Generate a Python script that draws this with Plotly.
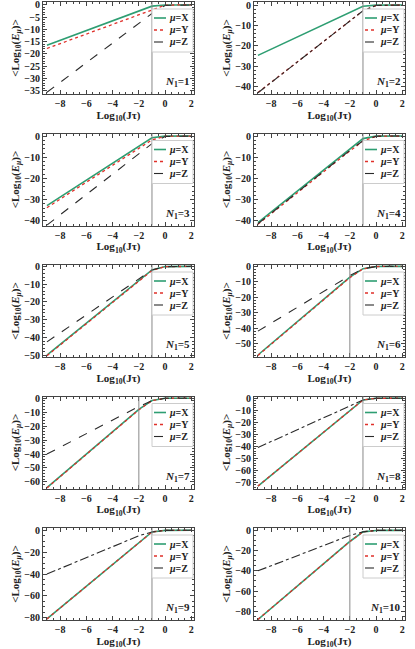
import plotly.graph_objects as go
from plotly.subplots import make_subplots

# Eje x: Log10(J tau)
x_vals = [-9, -8, -7, -6, -5, -4, -3, -2, -1, 0, 1, 2]

n1_vals = [1, 2, 3, 4, 5, 6, 7, 8, 9, 10]

# <Log10(E_mu)> para mu = X, un panel por N1
mu_x = [
    [-16.5, -14.5, -12.5, -10.5, -8.5, -6.5, -4.5, -2.5, -0.5, -0.05, 0, 0],
    [-24.6, -21.6, -18.6, -15.6, -12.6, -9.6, -6.6, -3.6, -0.6, -0.05, 0, 0],
    [-32.8, -28.8, -24.8, -20.8, -16.8, -12.8, -8.8, -4.8, -0.8, -0.05, 0, 0],
    [-40.8, -35.8, -30.9, -26.0, -21.0, -16.0, -11.1, -6.1, -1.2, -0.05, 0, 0],
    [-50.0, -44.0, -38.0, -32.0, -26.0, -20.0, -14.0, -8.0, -2.0, -0.1, 0, 0],
    [-57.5, -50.3, -43.1, -35.9, -28.6, -21.4, -14.2, -7.0, -1.5, -0.1, 0, 0],
    [-64.0, -56.0, -48.0, -40.0, -32.0, -24.0, -16.0, -8.0, -1.7, -0.1, 0, 0],
    [-73.0, -64.0, -55.0, -46.0, -37.0, -28.0, -19.0, -10.0, -1.5, -0.1, 0, 0],
    [-81.0, -71.0, -61.0, -51.0, -41.0, -31.0, -21.0, -11.0, -1.5, -0.1, 0, 0],
    [-88.0, -77.0, -66.0, -55.0, -44.0, -33.0, -22.0, -11.0, -1.5, -0.1, 0, 0],
]

# mu = Y
mu_y = [
    [-17.8, -15.8, -13.8, -11.8, -9.8, -7.8, -5.8, -3.8, -1.8, -0.1, 0, 0],
    [-42.8, -37.8, -32.8, -27.8, -22.8, -17.8, -12.8, -7.8, -2.8, -0.2, 0, 0],
    [-33.8, -29.8, -25.8, -21.8, -17.8, -13.8, -9.8, -5.8, -1.8, -0.1, 0, 0],
    [-41.6, -36.6, -31.7, -26.7, -21.8, -16.8, -11.9, -7.0, -2.4, -0.1, 0, 0],
    [-50.3, -44.3, -38.3, -32.3, -26.3, -20.3, -14.3, -8.3, -2.3, -0.1, 0, 0],
    [-57.8, -50.6, -43.4, -36.2, -28.9, -21.7, -14.5, -7.3, -1.6, -0.1, 0, 0],
    [-64.3, -56.3, -48.3, -40.3, -32.3, -24.3, -16.3, -8.3, -1.8, -0.1, 0, 0],
    [-73.0, -64.0, -55.0, -46.0, -37.0, -28.0, -19.0, -10.0, -1.5, -0.1, 0, 0],
    [-81.0, -71.0, -61.0, -51.0, -41.0, -31.0, -21.0, -11.0, -1.5, -0.1, 0, 0],
    [-88.0, -77.0, -66.0, -55.0, -44.0, -33.0, -22.0, -11.0, -1.5, -0.1, 0, 0],
]

# mu = Z
mu_z = [
    [-35.7, -31.7, -27.7, -23.7, -19.7, -15.7, -11.7, -7.7, -3.5, -0.2, 0, 0],
    [-42.9, -37.9, -32.9, -27.9, -22.9, -17.9, -12.9, -7.9, -2.8, -0.2, 0, 0],
    [-42.0, -37.2, -32.4, -27.6, -22.8, -18.0, -13.2, -8.4, -3.6, -0.2, 0, 0],
    [-41.4, -36.4, -31.5, -26.5, -21.6, -16.6, -11.7, -6.8, -2.2, -0.1, 0, 0],
    [-42.5, -37.5, -32.5, -27.5, -22.5, -17.5, -12.5, -7.5, -2.0, -0.1, 0, 0],
    [-42.0, -36.9, -31.7, -26.6, -21.4, -16.3, -11.1, -6.0, -1.5, -0.1, 0, 0],
    [-40.0, -35.1, -30.3, -25.4, -20.6, -15.7, -10.9, -6.0, -1.7, -0.1, 0, 0],
    [-41.0, -36.0, -31.0, -26.0, -21.0, -16.0, -11.0, -6.0, -1.5, -0.1, 0, 0],
    [-40.0, -35.0, -30.0, -25.0, -20.0, -15.0, -10.0, -5.0, -1.5, -0.1, 0, 0],
    [-40.0, -35.0, -30.0, -25.0, -20.0, -15.0, -10.0, -5.0, -1.5, -0.1, 0, 0],
]

# linea vertical de referencia en cada panel
vline_x = [-1, -1, -1, -1, -1, -2, -2, -1, -1, -2]

# rango y ticks del eje y
y_ranges = [[-36.4, 1.2], [-43.5, 1.5], [-42.2, 1.2], [-42.2, 1.2], [-51, 0.8],
            [-58.8, 0.9], [-64.7, 1.2], [-75, 1.4], [-82, 2.1], [-88.5, 2.3]]
y_dticks = [5, 10, 10, 10, 10, 10, 10, 10, 20, 20]
z_dash = ['dash', 'dashdot', 'dash', 'dash', 'dash', 'dash', 'dash', 'dashdot', 'dashdot', 'dashdot']

legend_names = ['<i>μ</i>=X', '<i>μ</i>=Y', '<i>μ</i>=Z']

W, H = 415, 649
FONT = 'Liberation Serif'
green = '#2e9e72'
red = '#e0302a'
black = '#2a2a2a'

fig = make_subplots(rows=5, cols=2)

col_px = [(43, 194), (254, 405)]
PW, PH = 151, 92  # tamaño de cada panel en pixeles

for i, n1 in enumerate(n1_vals):
    row, col = i // 2 + 1, i % 2 + 1
    k = i + 1
    ax = '' if k == 1 else str(k)

    styles = [dict(color=green, width=1.6),
              dict(color=red, width=1.3, dash='dot'),
              dict(color=black, width=1.1, dash=z_dash[i])]

    for series, name, st in zip([mu_x[i], mu_y[i], mu_z[i]], legend_names, styles):
        fig.add_trace(go.Scatter(x=x_vals, y=series, mode='lines', name=name,
                                 line=st, showlegend=False),
                      row=row, col=col)

    fig.add_vline(x=vline_x[i], line=dict(color='#888888', width=1), row=row, col=col)

    # posicion de cada panel en pixeles
    top = 2 + 131.5 * (row - 1)
    bottom = top + PH
    x0, x1 = col_px[col - 1]
    xd = [x0 / W, x1 / W]
    yd = [1 - bottom / H, 1 - top / H]

    fig.update_xaxes(domain=xd, range=[-9.3, 2.2], dtick=2, row=row, col=col,
                     title=dict(text='Log<sub>10</sub>(Jτ)', standoff=1,
                                font=dict(family=FONT, size=11, color='#222', weight='bold')))
    fig.update_yaxes(domain=yd, range=y_ranges[i], dtick=y_dticks[i], row=row, col=col,
                     title=dict(text='&lt;Log<sub>10</sub>(<i>E</i><sub><i>μ</i></sub>)&gt;', standoff=2,
                                font=dict(family=FONT, size=11, color='#222', weight='bold')))

    # leyenda dentro del panel (caja, muestras de linea y texto)
    bx0, bx1 = 1 - 42 / PW, 1 - 1 / PW
    by1, by0 = 1 - 7 / PH, 1 - 50 / PH
    fig.add_shape(type='rect', xref=f'x{ax} domain', yref=f'y{ax} domain',
                  x0=bx0, x1=bx1, y0=by0, y1=by1, fillcolor='white',
                  line=dict(color='#cccccc', width=1), layer='above')
    for j, (name, st) in enumerate(zip(legend_names, styles)):
        yy = 1 - (16 + 12 * j) / PH
        fig.add_shape(type='line', xref=f'x{ax} domain', yref=f'y{ax} domain',
                      x0=bx0 + 2 / PW, x1=bx0 + 14 / PW, y0=yy, y1=yy,
                      line=st, layer='above')
        fig.add_annotation(text=name, xref=f'x{ax} domain', yref=f'y{ax} domain',
                           x=bx0 + 15 / PW, y=yy, xanchor='left', yanchor='middle',
                           showarrow=False,
                           font=dict(family=FONT, size=10, color='#222', weight='bold'))

    fig.add_annotation(text=f'<i>N</i><sub>1</sub>={n1}', xref=f'x{ax} domain', yref=f'y{ax} domain',
                       x=0.99, y=0.03, xanchor='right', yanchor='bottom', showarrow=False,
                       font=dict(family=FONT, size=11, color='#222', weight='bold'))

fig.update_xaxes(showline=True, linecolor='#444', linewidth=1, mirror='ticks',
                 ticks='inside', ticklen=4, tickcolor='#444', showgrid=False, zeroline=False,
                 automargin=False, ticklabeloverflow='allow',
                 minor=dict(ticks='inside', ticklen=2, dtick=0.5, tickcolor='#444'),
                 tickfont=dict(family=FONT, size=10, color='#222', weight='bold'))
fig.update_yaxes(showline=True, linecolor='#444', linewidth=1, mirror='ticks',
                 ticks='inside', ticklen=4, tickcolor='#444', showgrid=False, zeroline=False,
                 automargin=False, ticklabeloverflow='allow',
                 minor=dict(ticks='inside', ticklen=2, tickcolor='#444'),
                 tickfont=dict(family=FONT, size=10, color='#222', weight='bold'))

fig.update_layout(
    width=W, height=H,
    margin=dict(l=0, r=0, t=0, b=0),
    plot_bgcolor='white', paper_bgcolor='white',
    showlegend=False,
)

# quitar el margen del body para que la figura ocupe toda la ventana
fig.write_html('out.html', config={'displayModeBar': False},
               post_script="document.body.style.margin='0px';")
